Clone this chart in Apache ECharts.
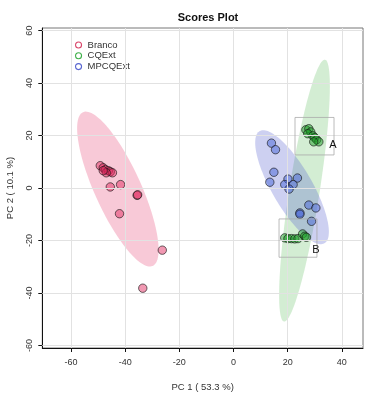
<!DOCTYPE html>
<html>
<head>
<meta charset="utf-8">
<script src="https://cdn.jsdelivr.net/npm/echarts@6/dist/echarts.min.js"></script>
<style>html,body{margin:0;padding:0;background:#fff}#c{width:372px;height:397px}</style>
</head>
<body>
<div id="c"></div>
<script>
const groups = ['Branco', 'CQExt', 'MPCQExt'];
const xTicks = [-60, -40, -20, 0, 20, 40];
const yTicks = [-60, -40, -20, 0, 20, 40, 60];

const brancoX = [-49.2, -48.1, -47.3, -46.2, -45.5, -44.7, -47.0, -48.1, -45.5, -41.7, -35.6, -35.4, -42.1, -26.3, -33.5];
const brancoY = [8.5, 7.7, 7.0, 6.6, 6.2, 5.8, 5.8, 6.6, 0.4, 1.3, -2.8, -2.6, -9.8, -23.7, -38.2];

const cqX = [26.7, 27.8, 28.5, 27.4, 29.3, 30.0, 30.7, 31.5, 29.6, 18.9, 20.1, 21.4, 22.6, 23.8, 25.5, 26.3, 26.9];
const cqY = [22.2, 22.6, 21.4, 20.7, 19.9, 19.2, 18.4, 17.6, 17.6, -19.0, -19.3, -19.3, -19.4, -19.3, -17.5, -18.4, -18.8];

const mpX = [14.0, 15.5, 14.9, 13.4, 20.1, 23.6, 18.9, 22.0, 20.5, 27.8, 30.4, 24.5, 24.5, 28.8];
const mpY = [17.1, 14.6, 6.0, 2.2, 3.4, 3.8, 1.3, 1.3, -0.4, -6.5, -7.6, -9.5, -10.0, -12.7];

// 95% ellipses: centre x, centre y, semi-major, semi-minor, angle (deg)
const ellipseBranco = [-42.7, -0.4, 32, 8.6, -66.4];
const ellipseCQ = [26.2, -1.0, 50.5, 5.6, 81.4];
const ellipseMP = [21.6, 0.3, 24.5, 7.5, -60.9];

// highlight boxes: x1, y1, x2, y2, label, label x, label y
const boxA = [22.7, 12.6, 37.1, 26.9, 'A', 35.3, 16.3];
const boxB = [16.8, -26.4, 30.8, -11.8, 'B', 29.1, -23.8];

const fills = ['rgba(226,40,95,0.48)', 'rgba(30,160,40,0.5)', 'rgba(70,100,215,0.5)'];
const strokes = ['#D9466A', '#3FB04A', '#5865D0'];
const ellFills = ['rgba(238,120,155,0.40)', 'rgba(110,195,110,0.3)', 'rgba(90,100,210,0.3)'];

const FONT = 'Liberation Sans';

function zip(a, b) { return a.map((v, i) => [v, b[i]]); }

function ellipseSeries(params, color, z) {
  return {
    type: 'custom', silent: true, z: z,
    data: [params],
    renderItem: function (p, api) {
      const cx = api.value(0), cy = api.value(1), a = api.value(2), b = api.value(3);
      const t = api.value(4) * Math.PI / 180;
      const pts = [];
      for (let i = 0; i < 120; i++) {
        const s = i / 120 * Math.PI * 2;
        const ex = a * Math.cos(s), ey = b * Math.sin(s);
        pts.push(api.coord([cx + ex * Math.cos(t) - ey * Math.sin(t), cy + ex * Math.sin(t) + ey * Math.cos(t)]));
      }
      return { type: 'polygon', shape: { points: pts }, style: { fill: color, stroke: null } };
    }
  };
}

function boxSeries(boxes) {
  return {
    type: 'custom', silent: true, z: 5,
    data: boxes,
    encode: { x: [0, 2], y: [1, 3] },
    renderItem: function (p, api) {
      const b = boxes[p.dataIndex];
      const p1 = api.coord([b[0], b[3]]);
      const p2 = api.coord([b[2], b[1]]);
      const lp = api.coord([b[5], b[6]]);
      return {
        type: 'group',
        children: [
          { type: 'rect', shape: { x: p1[0], y: p1[1], width: p2[0] - p1[0], height: p2[1] - p1[1] },
            style: { fill: null, stroke: '#aaaaaa', lineWidth: 0.8 } },
          { type: 'text', x: lp[0], y: lp[1],
            style: { text: b[4], fill: '#111', font: '11px "' + FONT + '"', align: 'left', verticalAlign: 'middle' } }
        ]
      };
    }
  };
}

function scatter(name, x, y, i) {
  return {
    name: name, type: 'scatter', z: 4, symbolSize: 8.4,
    data: zip(x, y),
    itemStyle: { color: fills[i], borderColor: 'rgba(20,20,20,0.8)', borderWidth: 0.8, opacity: 1 }
  };
}

const chart = echarts.init(document.getElementById('c'), null, { renderer: 'canvas' });
chart.setOption({
  animation: false,
  backgroundColor: '#fff',
  textStyle: { fontFamily: FONT },
  title: {
    text: 'Scores Plot', left: 203, top: 7, textAlign: 'center',
    textStyle: { fontSize: 11, fontWeight: 'bold', color: '#111', fontFamily: FONT }
  },
  legend: {
    orient: 'vertical', left: 75, top: 40, padding: 0, itemGap: 0.8, itemWidth: 6, itemHeight: 6, icon: 'circle',
    textStyle: { fontSize: 9.5, lineHeight: 10, color: '#333', fontFamily: FONT, padding: [0, 0, 0, 1] },
    data: groups.map((g, i) => ({ name: g, itemStyle: { color: '#fff', borderColor: strokes[i], borderWidth: 1.1 } }))
  },
  grid: { left: 42.3, right: 9, top: 28, bottom: 49, show: true, borderColor: '#777', borderWidth: 1,
          containLabel: false, outerBoundsMode: 'none' },
  xAxis: {
    type: 'value', min: -70.6, max: 47.8,
    name: 'PC 1 ( 53.3 %)', nameLocation: 'middle', nameGap: 34,
    nameTextStyle: { fontSize: 9.5, color: '#333', fontFamily: FONT },
    axisLine: { show: true, onZero: false, lineStyle: { color: '#111', width: 1 } },
    axisTick: { show: true, length: 4, customValues: xTicks, lineStyle: { color: '#111' } },
    axisLabel: { customValues: xTicks, fontSize: 9, color: '#333', margin: 10, fontFamily: FONT },
    splitLine: { show: false }
  },
  yAxis: {
    type: 'value', min: -61, max: 61,
    name: 'PC 2 ( 10.1 %)', nameLocation: 'middle', nameGap: 27, nameRotate: 90,
    nameTextStyle: { fontSize: 9.5, color: '#333', fontFamily: FONT },
    axisLine: { show: true, onZero: false, lineStyle: { color: '#111', width: 1 } },
    axisTick: { show: true, length: 4, customValues: yTicks, lineStyle: { color: '#111' } },
    axisLabel: { customValues: yTicks, fontSize: 9, color: '#333', margin: 8, rotate: 90, fontFamily: FONT },
    splitLine: { show: false }
  },
  series: [
    {
      type: 'line', data: [], silent: true, z: 0,
      markLine: {
        silent: true, symbol: ['none', 'none'], label: { show: false },
        lineStyle: { color: '#e2e2e2', width: 1, type: 'solid' },
        data: xTicks.map(v => ({ xAxis: v })).concat(yTicks.map(v => ({ yAxis: v })))
      }
    },
    ellipseSeries(ellipseBranco, ellFills[0], 1),
    ellipseSeries(ellipseCQ, ellFills[1], 1),
    ellipseSeries(ellipseMP, ellFills[2], 1),
    boxSeries([boxA, boxB]),
    scatter(groups[0], brancoX, brancoY, 0),
    scatter(groups[1], cqX, cqY, 1),
    scatter(groups[2], mpX, mpY, 2)
  ]
});
</script>
</body>
</html>
